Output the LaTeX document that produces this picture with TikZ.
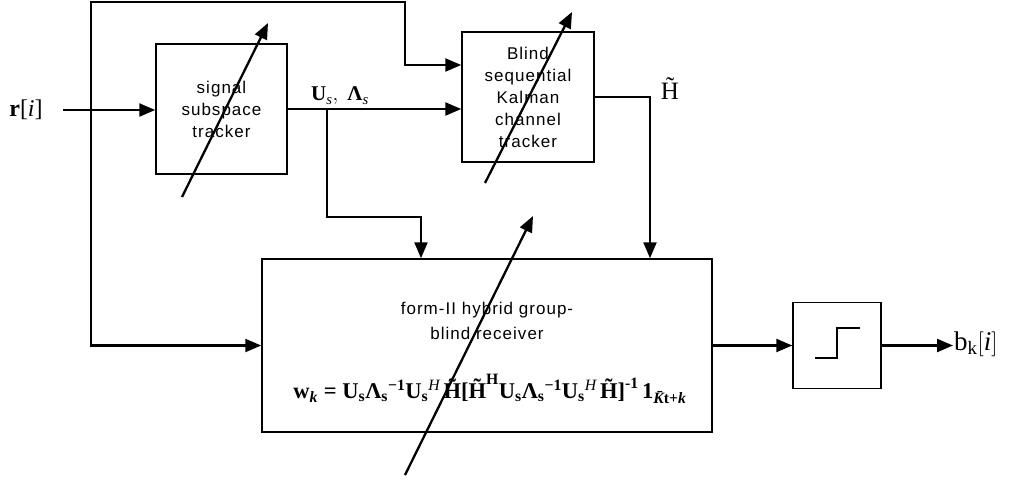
\documentclass[tikz,border=0pt]{standalone}
\usepackage{fontspec}
\usepackage{amsmath}
\setmainfont{Liberation Serif}
\newfontfamily\arial[LetterSpace=6]{Liberation Sans}
\usetikzlibrary{arrows.meta}
\newcommand\B[1]{\text{\bfseries #1}}
\newcommand\BI[1]{\text{\bfseries\itshape #1}}
\newcommand\I[1]{\text{\normalfont\itshape #1}}
\newcommand\R[1]{\text{\normalfont #1}}
\begin{document}
\begin{tikzpicture}[x=1pt,y=-1pt,
  box/.style={draw,line width=1.5pt,inner sep=0pt,font=\arial\fontsize{17}{22}\selectfont,align=center},
  conn/.style={line width=2.3pt,-{Triangle[length=16pt,width=13pt]}},
  lbl/.style={inner sep=0pt}]
\useasboundingbox (0,0) rectangle (1017,480);
% blocks
\node[box,minimum width=131pt,minimum height=130pt] (ss) at (221.5,109) {signal\\subspace\\tracker};
\node[box,minimum width=132pt,minimum height=130pt] (kal) at (528,97) {Blind\\sequential\\Kalman\\channel\\tracker};
\node[box,minimum width=450pt,minimum height=173pt] (rx) at (487,345.5) {};
\node[lbl,font=\arial\fontsize{17}{25}\selectfont,align=center] (rxl) at (487,321) {form-II hybrid group-\\blind receiver};
\node[lbl,font=\fontsize{22.5}{27}\selectfont] (fm) at (490,389) {$\B{w}_{\BI{k}} \mathrel{\B{=}} \B{U}_{\B{s}}\B{Λ}_{\B{s}}{}^{\B{−1}}\B{U}_{\B{s}}{}^{\I{H}}\,\B{\~H}\B{[}\B{\~H}^{\R{\bfseries H}}\B{U}_{\B{s}}\B{Λ}_{\B{s}}{}^{\B{−1}}\B{U}_{\B{s}}{}^{\I{H}}\,\B{\~H}\B{]}^{\B{-1}}\,\B{1}_{\BI{\=K}\B{t+}\BI{k}}$};
\node[box,minimum width=88pt,minimum height=86pt] (dec) at (837,345.5) {};
% labels
\node[lbl,font=\fontsize{24}{28}\selectfont] (rlab) at (26,110) {\textbf{r}[\textit{i}]};
\node[lbl,font=\fontsize{21}{25}\selectfont] (ulab) at (340,96) {$\B{U}_{\I{s}},\;\B{Λ}_{\I{s}}$};
\node[lbl,font=\fontsize{25}{29}\selectfont] (hlab) at (670,89) {\~H};
% coordinates
\coordinate (in) at (63,110);
\coordinate (j) at (91,110);
\coordinate (tl) at (91,2);
\coordinate (tr) at (405,2);
\coordinate (k1) at (405,65);
\coordinate (b1) at (327,109);
\coordinate (b2) at (421,217);
\coordinate (h1) at (650,97);
\coordinate (out) at (953,345.5);
\node[lbl,anchor=west,font=\fontsize{27}{31}\selectfont] (bk) at (954,344) {$\R{b}_{\R{k}}[\I{i}]$};
% connectors
\draw[conn] (in) -- (in -| ss.west);
\draw[conn] (j) -- (tl) -- (tr) -- (k1) -- (k1 -| kal.west);
\draw[conn] (j) |- (rx.west);
\draw[conn] (ss.east) -- (ss.east -| kal.west);
\draw[conn] (b1) |- (b2) -- (b2 |- rx.north);
\draw[conn] (kal.east) -| (h1 |- rx.north);
\draw[conn] (rx.east) -- (dec.west);
\draw[conn] (dec.east) -- (out);
% adjustable arrows
\coordinate (d1a) at (182,197); \coordinate (d1b) at (268,23);
\coordinate (d2a) at (485,183); \coordinate (d2b) at (572,12);
\coordinate (d3a) at (405,475); \coordinate (d3b) at (533,216);
\draw[conn] (d1a) -- (d1b);
\draw[conn] (d2a) -- (d2b);
\draw[conn] (d3a) -- (d3b);
% hard limiter symbol
\draw[line width=1.8pt] (815,358) -- (837,358) -- (837,328) -- (860,328);
\end{tikzpicture}
\end{document}
